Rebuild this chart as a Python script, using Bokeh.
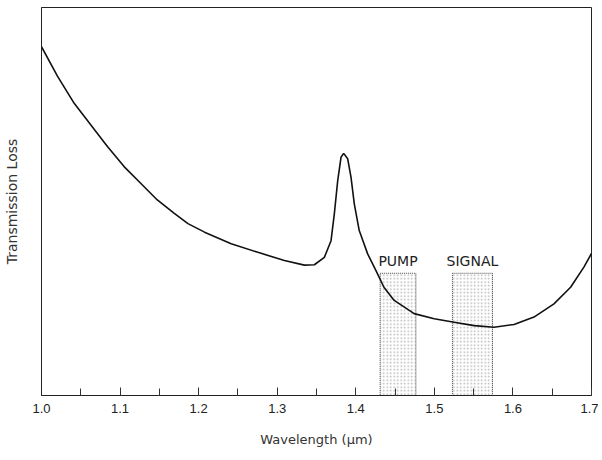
from bokeh.plotting import figure
from bokeh.embed import file_html
from bokeh.resources import INLINE
from bokeh.models import Range1d, FixedTicker, Label

# Data (loss in arbitrary units)
wavelength = [1.000, 1.0203, 1.0416, 1.0626, 1.0839, 1.1051, 1.1262, 1.1474, 1.1686, 1.1864,
              1.2075, 1.2414, 1.2754, 1.3091, 1.3346, 1.3473, 1.3600, 1.3685, 1.3727, 1.3770,
              1.3812, 1.3846, 1.3897, 1.3939, 1.3981, 1.4044, 1.4151, 1.4257, 1.4358, 1.4489,
              1.4743, 1.4998, 1.5252, 1.5506, 1.5760, 1.6014, 1.6268, 1.6522, 1.6734, 1.6903,
              1.7000]
loss = [89.9, 82.3, 75.3, 69.8, 64.2, 59.0, 54.7, 50.4, 47.0, 44.3,
        42.1, 39.1, 36.9, 34.8, 33.6, 33.7, 35.6, 39.9, 46.8, 55.4,
        61.4, 62.4, 61.0, 56.3, 49.4, 42.5, 36.5, 32.2, 27.9, 24.5,
        21.1, 19.8, 18.9, 18.0, 17.6, 18.3, 20.2, 23.6, 27.9, 33.1,
        36.6]

band_names = ["PUMP", "SIGNAL"]
band_left = [1.431, 1.523]
band_right = [1.4765, 1.574]
band_top = 31.5

tick_values = [1.0, 1.1, 1.2, 1.3, 1.4, 1.5, 1.6, 1.7]
minor_values = [1.05, 1.15, 1.25, 1.35, 1.45, 1.55, 1.65]

p = figure(width=598, height=455, output_backend="svg", toolbar_location=None,
           x_range=Range1d(1.0, 1.7), y_range=Range1d(0, 100),
           min_border_left=40, min_border_right=7, min_border_top=7, min_border_bottom=60)

p.background_fill_color = "white"
p.border_fill_color = "white"
p.outline_line_color = "#222222"
p.outline_line_width = 1
p.grid.visible = False

# bands
p.quad(left=band_left, right=band_right, bottom=[0, 0], top=[band_top, band_top],
       fill_color="white", line_color="#444444", line_width=1, line_dash="1 1",
       hatch_pattern="dot", hatch_color="#999999", hatch_scale=3.5, hatch_alpha=0.7)

for name, l, r in zip(band_names, band_left, band_right):
    p.add_layout(Label(x=(l + r) / 2, y=band_top + 1.0, text=name, text_align="center",
                       text_baseline="bottom", text_font="DejaVu Sans",
                       text_font_size="14px", text_color="#222222"))

p.line(wavelength, loss, line_color="#111111", line_width=1.6)

xa = p.xaxis[0]
xa.ticker = FixedTicker(ticks=tick_values, minor_ticks=minor_values)
xa.major_label_overrides = {v: f"{v:.1f}" for v in tick_values}
xa.major_tick_in = 8
xa.major_tick_out = 0
xa.minor_tick_in = 7
xa.minor_tick_out = 0
xa.major_tick_line_color = "#333333"
xa.minor_tick_line_color = "#333333"
xa.axis_line_color = "#222222"
xa.major_label_text_font = "Liberation Sans"
xa.major_label_text_font_size = "13px"
xa.major_label_text_color = "#222222"
xa.major_label_standoff = 8
xa.axis_label = "Wavelength (\u03bcm)"
xa.axis_label_text_font = "DejaVu Sans"
xa.axis_label_text_font_style = "normal"
xa.axis_label_text_font_size = "13px"
xa.axis_label_text_color = "#333333"
xa.axis_label_standoff = 16

ya = p.yaxis[0]
ya.major_tick_line_color = None
ya.minor_tick_line_color = None
ya.major_label_text_font_size = "0px"
ya.major_label_text_color = None
ya.axis_line_color = "#222222"
ya.axis_label = "Transmission Loss"
ya.axis_label_text_font = "DejaVu Sans"
ya.axis_label_text_font_style = "normal"
ya.axis_label_text_font_size = "14px"
ya.axis_label_text_color = "#333333"
ya.axis_label_standoff = 16

open("out.html", "w").write(file_html(p, INLINE))
